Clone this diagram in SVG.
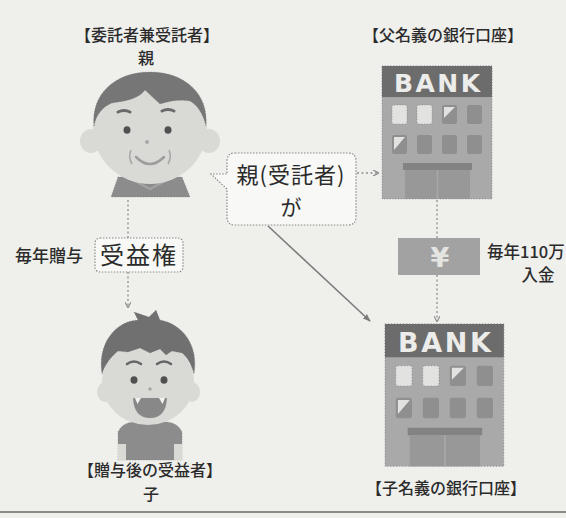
<svg xmlns="http://www.w3.org/2000/svg" width="566" height="518" viewBox="0 0 566 518">
  <style>
    .jp { font-family: "Noto Sans CJK JP", "Noto Sans", sans-serif; fill: #2b2b2b; }
    .lbl { font-size: 16px; font-weight: 500; text-anchor: middle; }
    .dot { fill: none; stroke: #8f8f8f; stroke-width: 1.3; stroke-dasharray: 2 2.5; }
    .edge { stroke: #7a7a7a; stroke-width: 0.6; stroke-dasharray: 1 1.8; }
    .box { fill: #f8f8f6; stroke: #8a8a8a; stroke-width: 1.2; stroke-dasharray: 1.5 1.5; }
    .skin { fill: #d9d9d6; }
    .hair { fill: #767676; }
    .shirt { fill: #8c8c8c; }
    .winL { fill: #e2e2e0; }
    .winD { fill: #8f8f8f; }
  </style>
  <defs>
    <marker id="tip" viewBox="0 0 6 6" refX="5" refY="3" markerWidth="6" markerHeight="6" markerUnits="userSpaceOnUse" orient="auto">
      <path d="M0,0 L6,3 L0,6" fill="none" stroke="#8f8f8f" stroke-width="1.2"/>
    </marker>
    <marker id="head" viewBox="0 0 8 8" refX="7" refY="4" markerWidth="8" markerHeight="8" markerUnits="userSpaceOnUse" orient="auto">
      <path d="M0,1 L8,4 L0,7 Z" fill="#7c7c7c"/>
    </marker>
    <!-- bank building, 110 x 133 local units -->
    <g id="bank">
      <rect x="0" y="0" width="110" height="133" fill="#a9a9a9" class="edge"/>
      <rect x="0" y="0" width="110" height="31" fill="#6c6c6c" class="edge"/>
      <text x="55" y="26" text-anchor="middle" font-family="DejaVu Sans, sans-serif" font-weight="bold" font-size="25" fill="#ececea" textLength="86" lengthAdjust="spacing">BANK</text>
      <rect x="10" y="39" width="15" height="19" rx="2" class="winL edge"/>
      <rect x="35" y="39" width="15" height="19" rx="2" class="winL edge"/>
      <rect x="60" y="39" width="15" height="19" rx="2" class="winD"/>
      <path d="M62,41 H73 L62,52 Z" fill="#e2e2e0"/>
      <rect x="85" y="39" width="15" height="19" rx="2" class="winD"/>
      <rect x="10" y="69" width="15" height="19" rx="2" class="winD"/>
      <path d="M12,71 H23 L12,84 Z" fill="#e2e2e0"/>
      <rect x="35" y="69" width="15" height="19" rx="2" class="winD"/>
      <rect x="60" y="69" width="15" height="19" rx="2" class="winD"/>
      <rect x="85" y="69" width="15" height="19" rx="2" class="winD"/>
      <rect x="21" y="97" width="69" height="7" fill="#838383"/>
      <rect x="23" y="104" width="65" height="29" fill="#989898"/>
      <line x1="55.5" y1="104" x2="55.5" y2="133" stroke="#a9a9a9" stroke-width="1.5"/>
    </g>
  </defs>

  <!-- paper -->
  <rect x="0" y="0" width="566" height="518" fill="#efefec"/>
  <line x1="0" y1="512" x2="566" y2="512" stroke="#8a8a8a" stroke-width="2"/>

  <!-- connectors -->
  <g id="connectors">
    <line x1="128" y1="200" x2="128" y2="307" class="dot" marker-end="url(#tip)"/>
    <line x1="437" y1="200" x2="437" y2="238" class="dot"/>
    <line x1="437" y1="275" x2="437" y2="321" class="dot" marker-end="url(#tip)"/>
    <line x1="357" y1="173" x2="378" y2="173" class="dot" marker-end="url(#tip)"/>
    <line x1="268" y1="226" x2="370" y2="321" stroke="#7c7c7c" stroke-width="1.6" marker-end="url(#head)"/>
  </g>

  <!-- trustee: parent -->
  <g id="parent">
    <text x="147" y="41" class="jp lbl">【委託者兼受託者】</text>
    <text x="146" y="64" class="jp lbl" font-size="14">親</text>
    <path d="M118,177 H182 L190,197 H111 Z" class="shirt edge"/>
    <path d="M127,177 L150,189 L173,177" fill="none" stroke="#a3a3a3" stroke-width="2"/>
    <ellipse cx="91" cy="141" rx="11" ry="12" class="skin"/>
    <ellipse cx="209" cy="141" rx="11" ry="12" class="skin"/>
    <ellipse cx="150" cy="128" rx="57" ry="56" class="skin"/>
    <path d="M94,126 C91,95 114,72 150,72 C186,72 209,95 206,126 C203,113 197,105 190,101 C180,99 170,101 160,104 C155,99 150,95 145,90 C139,99 125,101 112,103 C102,107 96,115 94,126 Z" class="hair edge"/>
    <path d="M118,112 Q124,109 130,112 M162,111 Q168,108 174,111" fill="none" stroke="#6a6a6a" stroke-width="3" stroke-linecap="round"/>
    <ellipse cx="127" cy="130" rx="3.5" ry="3.8" fill="#505050"/>
    <ellipse cx="168" cy="130" rx="3.5" ry="3.8" fill="#505050"/>
    <circle cx="147" cy="142" r="2" fill="#a8a8a8"/>
    <path d="M136,157 Q150,171 164,157" fill="none" stroke="#9d9d9d" stroke-width="2.5" stroke-linecap="round"/>
    <path d="M131,150 Q128,157 132,164 M169,150 Q172,157 168,164" fill="none" stroke="#a8a8a8" stroke-width="1.6"/>
  </g>

  <!-- beneficiary right -->
  <g id="right">
    <rect x="95" y="238" width="88" height="34" rx="5" class="box"/>
    <text x="139" y="264" class="jp" font-size="24" text-anchor="middle" letter-spacing="2">受益権</text>
    <text x="15" y="262" class="jp" font-size="17" font-weight="500">毎年贈与</text>
  </g>

  <!-- beneficiary: child -->
  <g id="child">
    <path d="M118,460 V432 Q122,423 133,422 H167 Q178,423 182,432 V460 Z" class="shirt edge"/>
    <rect x="118" y="444" width="8" height="16" class="skin"/>
    <rect x="174" y="444" width="8" height="16" class="skin"/>
    <ellipse cx="105" cy="392" rx="8" ry="10" class="skin"/>
    <ellipse cx="192" cy="392" rx="8" ry="10" class="skin"/>
    <ellipse cx="148" cy="382" rx="46" ry="43" class="skin"/>
    <path d="M102,374 C97,342 117,321 138,320 L134,312 L149,317 L156,310 L160,320 C183,324 199,346 194,374 C191,363 187,357 182,353 L172,351 L166,355 L160,349 L150,353 L140,348 L128,352 L118,351 C111,357 105,364 102,374 Z" class="edge" fill="#707070"/>
    <path d="M127,364 Q134,359 141,364 M157,364 Q164,359 171,364" fill="none" stroke="#666" stroke-width="2.5" stroke-linecap="round"/>
    <ellipse cx="134" cy="380" rx="3.5" ry="3.8" fill="#505050"/>
    <ellipse cx="164" cy="380" rx="3.5" ry="3.8" fill="#505050"/>
    <circle cx="150" cy="389" r="1.8" fill="#a8a8a8"/>
    <path d="M133,398 H167 Q166,418 150,418 Q134,418 133,398 Z" fill="#888"/>
    <path d="M135,398 H141 L137.5,404 Z M159,398 H165 L162.5,404 Z" fill="#f2f2f0"/>
    <text x="150" y="476" class="jp lbl">【贈与後の受益者】</text>
    <text x="151" y="500" class="jp lbl">子</text>
  </g>

  <!-- parent's bank account -->
  <g id="bank-parent">
    <text x="443" y="41" class="jp lbl">【父名義の銀行口座】</text>
    <use href="#bank" transform="translate(382,66)"/>
  </g>

  <!-- yearly deposit -->
  <g id="deposit">
    <rect x="398" y="238" width="82" height="37" fill="#a2a2a2"/>
    <text x="440" y="267" text-anchor="middle" font-family="DejaVu Sans, sans-serif" font-weight="bold" font-size="27" fill="#e4e4e2">¥</text>
    <text x="487" y="258" class="jp" font-size="16.5" font-weight="500">毎年110万</text>
    <text x="538" y="281" class="jp" font-size="16.5" font-weight="500" text-anchor="middle">入金</text>
  </g>

  <!-- child's bank account -->
  <g id="bank-child">
    <use href="#bank" transform="translate(385,324) scale(1.08,1.07)"/>
    <text x="446" y="494" class="jp lbl">【子名義の銀行口座】</text>
  </g>

  <!-- callout -->
  <g id="callout">
    <path d="M235,153 H348 Q356,153 356,161 V217 Q356,225 348,225 H235 Q227,225 227,217 V189 L211,174 L227,174 V161 Q227,153 235,153 Z" class="box"/>
    <text x="291" y="183" class="jp" font-size="22" text-anchor="middle" letter-spacing="1">親(受託者)</text>
    <text x="291" y="215" class="jp" font-size="21" text-anchor="middle">が</text>
  </g>
</svg>
